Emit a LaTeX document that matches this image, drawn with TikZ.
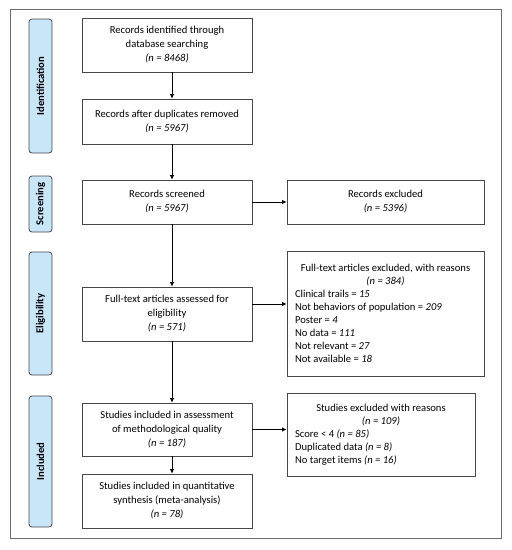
\documentclass[tikz,border=0pt]{standalone}
\usepackage{fontspec}
\setmainfont{Carlito}
\usetikzlibrary{arrows.meta,calc}
\definecolor{lblue}{RGB}{200,230,248}
\definecolor{edge}{RGB}{70,70,70}
\tikzset{
  box/.style={draw=edge,line width=0.8pt,fill=white,align=center,inner sep=2pt,font=\fontsize{10.6}{14}\selectfont},
  phase/.style={draw=edge,line width=0.8pt,fill=lblue,rounded corners=3pt,minimum width=23pt,inner sep=0pt,font=\fontsize{10.6}{12}\selectfont\bfseries},
  arr/.style={draw=black,line width=0.8pt,-{Latex[length=4.5pt,width=4.5pt]}},
}
\begin{document}
\begin{tikzpicture}[x=1pt,y=-1pt]
\useasboundingbox (0,0) rectangle (512,550);
\node[draw=edge!80,line width=0.8pt,minimum width=491pt,minimum height=529pt,inner sep=0pt] (frame) at (255.5,273.5) {};
% phase labels
\node[phase,minimum height=134pt] (pid) at (40.5,86) {\rotatebox{90}{Identification}};
\node[phase,minimum height=56pt] (psc) at (40.5,204) {\rotatebox{90}{Screening}};
\node[phase,minimum height=123pt] (pel) at (40.5,313.5) {\rotatebox{90}{Eligibility}};
\node[phase,minimum height=131pt] (pin) at (40.5,461.5) {\rotatebox{90}{Included}};
% main boxes
\node[box,minimum width=170pt,minimum height=54pt] (b1) at (167,45) {Records identified through\\database searching\\\textit{(n = 8468)}};
\node[box,minimum width=170pt,minimum height=45pt] (b2) at (167,121.5) {Records after duplicates removed\\\textit{(n = 5967)}};
\node[box,minimum width=170pt,minimum height=44pt] (b3) at (167,202) {Records screened\\\textit{(n = 5967)}};
\node[box,minimum width=170pt,minimum height=54pt] (b4) at (167,314) {Full-text articles assessed for\\eligibility\\\textit{(n = 571)}};
\node[box,minimum width=170pt,minimum height=53pt] (b5) at (167,429.5) {Studies included in assessment\\of methodological quality\\\textit{(n = 187)}};
\node[box,minimum width=170pt,minimum height=54pt] (b6) at (167,501) {Studies included in quantitative\\synthesis (meta-analysis)\\\textit{(n = 78)}};
% right boxes
\node[box,minimum width=197pt,minimum height=44pt] (rex) at (385.5,202) {Records excluded\\\textit{(n = 5396)}};
\node[box,minimum width=197pt,minimum height=125pt,inner sep=0pt] (fex) at (385.5,313.5) {\begin{minipage}{181pt}\fontsize{10.6}{13}\selectfont\centering Full-text articles excluded, with reasons\\\textit{(n = 384)}\par\raggedright
Clinical trails = \textit{15}\\
Not behaviors of population = \textit{209}\\
Poster = \textit{4}\\
No data = \textit{111}\\
Not relevant = \textit{27}\\
Not available = \textit{18}\end{minipage}};
\node[box,minimum width=188pt,minimum height=83pt,inner sep=0pt] (sex) at (381,434.5) {\begin{minipage}{172pt}\fontsize{10.6}{13}\selectfont\centering Studies excluded with reasons\\\textit{(n = 109)}\par\raggedright
Score < 4 \textit{(n = 85)}\\
Duplicated data \textit{(n = 8)}\\
No target items \textit{(n = 16)}\end{minipage}};
% vertical arrows
\draw[arr] ($(b1.south)+(5,0)$) -- ($(b2.north)+(5,0)$);
\draw[arr] ($(b2.south)+(5,0)$) -- ($(b3.north)+(5,0)$);
\draw[arr] ($(b3.south)+(5,0)$) -- ($(b4.north)+(5,0)$);
\draw[arr] ($(b4.south)+(5,0)$) -- ($(b5.north)+(5,0)$);
\draw[arr] ($(b5.south)+(5,0)$) -- ($(b6.north)+(5,0)$);
% horizontal arrows
\draw[arr] (b3.east) -- (rex.west);
\draw[arr] ($(b4.east)+(0,-10)$) -- ($(fex.west)+(0,-9.5)$);
\draw[arr,line width=1.3pt] (b5.east) -- (b5.east -| sex.west);
\end{tikzpicture}
\end{document}
